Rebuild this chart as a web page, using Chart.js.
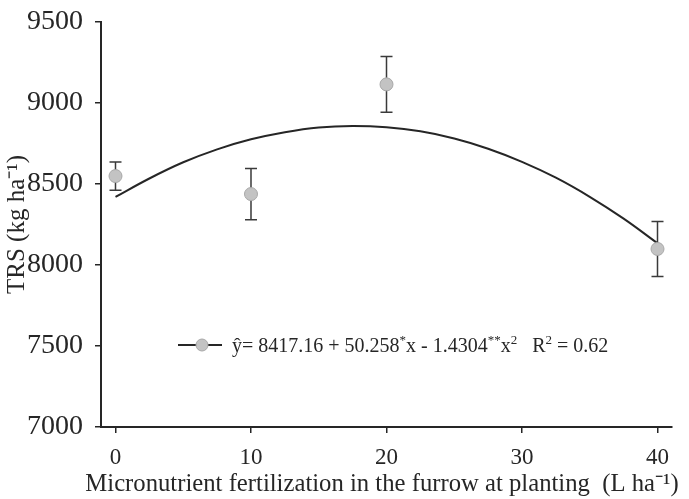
<!DOCTYPE html>
<html>
<head>
<meta charset="utf-8">
<script src="https://cdn.jsdelivr.net/npm/chart.js@4.4.1/dist/chart.umd.min.js"></script>
<style>
  html, body { margin: 0; padding: 0; background: #fff; }
  #wrap { width: 689px; height: 499px; }
</style>
</head>
<body>
<div id="wrap"><canvas id="trs-chart"></canvas></div>
<script>
const doses = [0, 10, 20, 40];
const trsMeans = [8549, 8438, 9115, 8099];
const trsErr = [87, 158, 172, 170];

// Fitted quadratic curve
const curveX = [0, 2.5, 5, 7.5, 10, 12.5, 15, 17.5, 20, 22.5, 25, 27.5, 30, 32.5, 35, 37.5, 40];
const curveY = [8420, 8534, 8634, 8714, 8776, 8820, 8849, 8858, 8850, 8825, 8781, 8718, 8637, 8539, 8421, 8286, 8134];

// Axis ticks
const xTicks = [0, 10, 20, 30, 40];
const yTicks = [7000, 7500, 8000, 8500, 9000, 9500];

const xTitle = 'Micronutrient fertilization in the furrow at planting  (L ha\u207B\u00B9)';

const serif = "'Liberation Serif', 'Times New Roman', serif";
const ink = '#262626';

// error bars drawn from the data through the chart scales
const errorBars = {
  id: 'errorBars',
  beforeDatasetsDraw(chart) {
    const { ctx, scales: { x, y } } = chart;
    ctx.save();
    ctx.strokeStyle = '#3a3a3a';
    ctx.lineWidth = 1.5;
    doses.forEach((d, i) => {
      const px = x.getPixelForValue(d);
      const top = y.getPixelForValue(trsMeans[i] + trsErr[i]);
      const bot = y.getPixelForValue(trsMeans[i] - trsErr[i]);
      ctx.beginPath();
      ctx.moveTo(px, top); ctx.lineTo(px, bot);
      ctx.moveTo(px - 6, top); ctx.lineTo(px + 6, top);
      ctx.moveTo(px - 6, bot); ctx.lineTo(px + 6, bot);
      ctx.stroke();
    });
    ctx.restore();
  }
};

// equation legend with superscripts + x title (chart.js squeezes long titles)
const eqLegend = {
  id: 'eqLegend',
  afterDraw(chart) {
    const ctx = chart.ctx;
    const ly = 345;
    ctx.save();
    ctx.strokeStyle = ink;
    ctx.lineWidth = 2;
    ctx.beginPath();
    ctx.moveTo(178, ly); ctx.lineTo(222, ly);
    ctx.stroke();
    ctx.beginPath();
    ctx.arc(202, ly, 6, 0, Math.PI * 2);
    ctx.fillStyle = '#c3c3c3';
    ctx.fill();
    ctx.strokeStyle = '#a8a8a8';
    ctx.lineWidth = 1;
    ctx.stroke();

    const parts = [
      ['\u0177= 8417.16 + 50.258', 0], ['*', 1], ['x - 1.4304', 0], ['**', 1],
      ['x', 0], ['2', 1], ['   R', 0], ['2', 1], [' = 0.62', 0]
    ];
    let tx = 232;
    ctx.fillStyle = ink;
    ctx.textBaseline = 'alphabetic';
    parts.forEach(([t, sup]) => {
      ctx.font = (sup ? '13px ' : '20px ') + serif;
      ctx.fillText(t, tx, sup ? ly - 1 : ly + 7);
      tx += ctx.measureText(t).width;
    });

    // x axis title
    ctx.font = '24.7px ' + serif;
    ctx.textAlign = 'center';
    ctx.textBaseline = 'middle';
    ctx.fillText(xTitle, 382, 485);
    ctx.restore();
  }
};

function initChart() {
  const ctx = document.getElementById('trs-chart').getContext('2d');
  new Chart(ctx, {
    type: 'scatter',
    data: {
      datasets: [
        {
          label: 'fit',
          data: curveX.map((v, i) => ({ x: v, y: curveY[i] })),
          showLine: true,
          borderColor: ink,
          borderWidth: 2,
          pointRadius: 0,
          tension: 0.4,
          fill: false,
          order: 1
        },
        {
          label: 'TRS',
          data: doses.map((v, i) => ({ x: v, y: trsMeans[i] })),
          showLine: false,
          pointRadius: 6.5,
          pointBackgroundColor: '#c3c3c3',
          pointBorderColor: '#a8a8a8',
          pointBorderWidth: 1,
          order: 0
        }
      ]
    },
    options: {
      responsive: true,
      maintainAspectRatio: false,
      animation: false,
      layout: { padding: { top: 22, right: 17, left: 0, bottom: 0 } },
      plugins: {
        legend: { display: false },
        tooltip: { enabled: false }
      },
      scales: {
        x: {
          type: 'linear',
          min: -1.07,
          max: 41.07,
          afterBuildTicks: (s) => { s.ticks = xTicks.map(v => ({ value: v })); },
          afterFit: (s) => { s.height = 72; },
          grid: { display: true, drawOnChartArea: false, drawTicks: true, tickLength: 6, color: ink, lineWidth: 1.5 },
          border: { display: true, color: ink, width: 2 },
          ticks: { color: ink, padding: 11, font: { family: serif, size: 23 } },
          title: { display: false }
        },
        y: {
          min: 7000,
          max: 9500,
          afterBuildTicks: (s) => { s.ticks = yTicks.map(v => ({ value: v })); },
          afterFit: (s) => { s.width = 101; },
          grid: { display: true, drawOnChartArea: false, drawTicks: true, tickLength: 6, color: ink, lineWidth: 1.5 },
          border: { display: true, color: ink, width: 2 },
          ticks: {
            color: ink,
            padding: 12,
            font: { family: serif, size: 28, lineHeight: 0.6 },
            callback: (v) => String(v)
          },
          title: {
            display: true,
            text: 'TRS (kg ha\u207B\u00B9)',
            color: ink,
            padding: { top: 2, bottom: 0 },
            font: { family: serif, size: 25 }
          }
        }
      }
    },
    plugins: [errorBars, eqLegend]
  });
}

window.onload = function () {
  initChart();
};
</script>
</body>
</html>
